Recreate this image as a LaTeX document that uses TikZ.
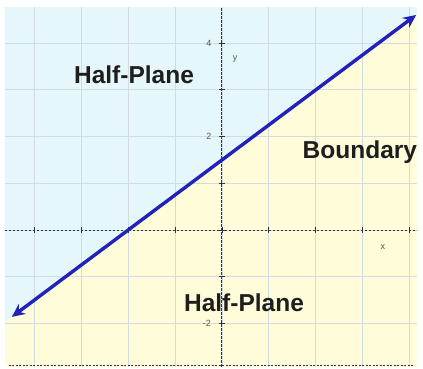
\documentclass[tikz,border=0pt]{standalone}
\usepackage{fontspec}
\setmainfont{Liberation Sans}
\usetikzlibrary{arrows.meta}
\definecolor{skyfill}{HTML}{E6F7FB}
\definecolor{sandfill}{HTML}{FFFCD9}
\definecolor{gridc}{HTML}{D2DBE0}
\definecolor{axisc}{HTML}{2E3448}
\definecolor{linec}{HTML}{2222BA}
\definecolor{txtc}{HTML}{1E1E1E}
\tikzset{
  bigtext/.style={font=\fontsize{24.5}{26}\selectfont\bfseries, text=txtc, inner sep=0pt},
  smalltext/.style={font=\fontsize{9}{10}\selectfont, text=gray!70!black, inner sep=0pt},
  gridline/.style={draw=gridc, line width=0.9pt},
  axisline/.style={draw=axisc, line width=1pt, dash pattern=on 2.5pt off 1.5pt},
  boundaryline/.style={draw=linec, line width=3.4pt, {Stealth[length=13pt,width=12pt]}-{Stealth[length=13pt,width=12pt]}}
}
\begin{document}
\begin{tikzpicture}[x=46.9pt,y=46.7pt]
\useasboundingbox (-4.733,-2.976) rectangle (4.286,4.925);
\fill[white] (-4.733,-2.976) rectangle (4.286,4.925);
% regions
\coordinate (bl) at (-4.627,-2.93);
\coordinate (tr) at (4.158,4.775);
\begin{scope}
\clip (bl) rectangle (tr);
\fill[sandfill] (bl) rectangle (tr);
\fill[skyfill] (-5,-2.25) -- (5,5.25) -- (5,6) -- (-5,6) -- cycle;
\end{scope}
% grid
\foreach \i in {-4,...,4} {
  \draw[gridline] (\i,-2.93) -- (\i,4.775);
}
\foreach \j in {-2,...,4} {
  \draw[gridline] (-4.627,\j) -- (4.158,\j);
}
\draw[axisc, line width=0.9pt, dash pattern=on 2pt off 1.5pt] (-4.55,-2.89) -- (4.1,-2.89);
% axes
\draw[axisline] (-4.627,0) -- (4.158,0);
\draw[axisline] (0,-2.93) -- (0,4.775);
\foreach \i in {-4,...,4} { \draw[axisc, line width=0.8pt] (\i,-0.06) -- (\i,0.06); }
\foreach \j in {-2,...,4} { \draw[axisc, line width=0.8pt] (-0.06,\j) -- (0.06,\j); }
% small labels
\node[smalltext] (l4) at (-0.28,4.0) {4};
\node[smalltext] (ly) at (0.28,3.66) {y};
\node[smalltext] (l2) at (-0.28,2.0) {2};
\node[smalltext] (lm2) at (-0.32,-1.99) {-2};
\node[smalltext] (lx) at (3.43,-0.36) {x};
% boundary line
\coordinate (pa) at (-4.48,-1.86);
\coordinate (pb) at (4.14,4.605);
\draw[boundaryline] (pa) -- (pb);
% labels
\node[bigtext] (hp1) at (-1.876,3.32) {Half-Plane};
\node[bigtext] (bd) at (2.94,1.67) {Boundary};
\node[bigtext] (hp2) at (0.47,-1.56) {Half-Plane};
\end{tikzpicture}
\end{document}
